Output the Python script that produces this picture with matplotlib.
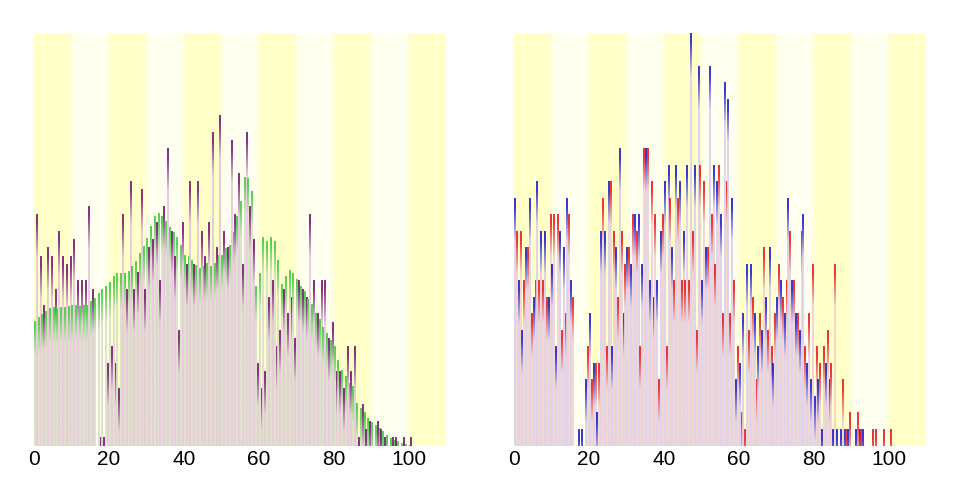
import numpy as np
import matplotlib
matplotlib.use("Agg")
import matplotlib.pyplot as plt

plt.rcParams['font.family'] = ['Liberation Sans', 'DejaVu Sans']

ages = list(range(0, 101))

# right panel: two groups, counts per age
blue_counts = [15, 10, 7, 12, 15, 9, 16, 13, 13, 9, 11, 6, 13, 12, 15, 10, 0, 1, 1, 4,
               8, 5, 2, 13, 13, 16, 6, 12, 18, 8, 12, 11, 14, 14, 11, 18, 10, 9, 10, 13,
               16, 17, 12, 17, 16, 13, 17, 25, 17, 23, 10, 12, 23, 17, 16, 14, 22, 21, 15, 4,
               5, 8, 11, 11, 8, 6, 7, 9, 12, 5, 9, 10, 8, 15, 10, 8, 7, 14, 5, 4,
               3, 4, 1, 5, 4, 1, 1, 1, 1, 1, 0, 1, 1, 1, 0, 0, 0, 0, 0, 0, 0]
red_counts = [13, 13, 10, 12, 8, 10, 10, 10, 9, 14, 14, 14, 7, 8, 14, 9, 0, 0, 0, 6,
              4, 5, 5, 15, 6, 16, 13, 9, 13, 11, 12, 14, 13, 6, 18, 18, 16, 14, 4, 14,
              6, 15, 10, 15, 10, 10, 10, 13, 7, 17, 16, 12, 14, 11, 17, 8, 16, 8, 10, 6,
              2, 1, 7, 9, 4, 8, 12, 7, 6, 8, 11, 9, 10, 13, 10, 8, 13, 6, 8, 11,
              6, 5, 6, 7, 5, 11, 0, 4, 1, 2, 0, 2, 1, 0, 0, 1, 1, 0, 1, 0, 1]

# left panel: total per age and the smoothed curve
total_counts = [28, 23, 17, 24, 23, 19, 26, 23, 22, 23, 25, 20, 20, 20, 29, 19, 0, 1, 1, 10,
                12, 10, 7, 28, 19, 32, 19, 21, 31, 19, 24, 25, 27, 20, 29, 36, 26, 23, 14, 27,
                22, 32, 22, 32, 26, 23, 27, 38, 24, 40, 26, 24, 37, 28, 33, 22, 38, 29, 25, 10,
                7, 9, 18, 20, 12, 14, 19, 16, 18, 13, 20, 19, 18, 28, 20, 16, 20, 20, 13, 15,
                9, 9, 7, 12, 9, 12, 1, 5, 2, 3, 0, 3, 2, 1, 0, 1, 1, 0, 1, 0, 1]
smooth_counts = [15.1, 15.5, 15.9, 16.3, 16.7, 16.8, 16.7, 16.8, 16.8, 16.9, 17.0, 17.0, 16.9, 17.0, 17.0,
                 17.5, 17.9, 18.5, 18.9, 19.3, 19.8, 20.5, 20.9, 20.9, 20.9, 21.1, 21.7, 22.3, 23.3, 24.1,
                 25.1, 26.6, 27.8, 28.2, 27.8, 27.2, 26.4, 25.9, 25.3, 24.3, 23.1, 23.0, 22.5, 21.9, 21.5,
                 21.7, 22.1, 21.7, 22.1, 23.1, 23.1, 23.9, 24.3, 25.9, 27.8, 29.6, 32.5, 32.4, 30.8, 19.3,
                 20.9, 25.3, 24.7, 25.3, 24.7, 22.5, 19.5, 20.5, 21.3, 20.9, 20.1, 19.3, 18.7, 17.7, 17.1,
                 16.1, 15.3, 14.4, 13.6, 12.8, 12.0, 10.4, 9.2, 8.4, 7.6, 7.2, 5.2, 4.6, 4.0, 3.3,
                 2.9, 2.5, 2.1, 1.7, 1.3, 0.9, 0.7, 0.5, 0.3, 0.2, 0.1]

xticks = [0, 20, 40, 60, 80, 100]


def rgb(h):
    h = h.lstrip('#')
    return np.array([int(h[i:i + 2], 16) for i in (0, 2, 4)]) / 255.0


def band_background(ax, ymax):
    cols = np.arange(0, 110, 0.25)
    yel = rgb('#FFFFC8')
    lig = rgb('#FFFFEF')
    c = np.array([yel if int(v // 10) % 2 == 0 else lig for v in cols])
    k = np.ones(9) / 9
    sm = np.stack([np.convolve(np.pad(c[:, i], 4, mode='edge'), k, mode='valid') for i in range(3)], axis=1)
    ax.imshow(sm[None, :, :], extent=(0, 110, 0, ymax), aspect='auto',
              interpolation='bilinear', zorder=0)


def grad_bar(ax, x, h, w, top, pale, ppu, solid=7, fade=28):
    if h <= 0:
        return
    hpx = h * ppu
    n = max(int(hpx), 2)
    d = (np.arange(n) + 0.5) / n * hpx
    t = np.clip((d - solid) / fade, 0, 1)[:, None]
    col = (1 - t) * top + t * pale
    ax.imshow(col[:, None, :], extent=(x, x + w, 0, h), origin='upper',
              aspect='auto', interpolation='bilinear', zorder=2, alpha=0.9)


fig = plt.figure(figsize=(9.6, 4.8), dpi=100)
ax1 = fig.add_axes([34 / 960, 34 / 480, 412 / 960, 413 / 480])
ax2 = fig.add_axes([514 / 960, 34 / 480, 412 / 960, 413 / 480])

w = 0.42
# left panel
ymax1 = 50
ppu1 = 413 / ymax1
band_background(ax1, ymax1)
for a, g, p in zip(ages, smooth_counts, total_counts):
    grad_bar(ax1, a, g, w, rgb('#44CC44'), rgb('#DCDFCB'), ppu1, solid=6, fade=30)
    grad_bar(ax1, a + 0.5, p, w, rgb('#7A1A7A'), rgb('#E6C8DA'), ppu1, solid=9, fade=34)

# right panel
ymax2 = 25
ppu2 = 413 / ymax2
band_background(ax2, ymax2)
for a, b, r in zip(ages, blue_counts, red_counts):
    grad_bar(ax2, a, b, w, rgb('#2222CC'), rgb('#DDD0EA'), ppu2, solid=9, fade=34)
    grad_bar(ax2, a + 0.5, r, w, rgb('#E82020'), rgb('#F0D2D4'), ppu2, solid=9, fade=34)

for ax, ymax in ((ax1, ymax1), (ax2, ymax2)):
    ax.set_xlim(0, 110)
    ax.set_ylim(0, ymax)
    ax.set_xticks(xticks)
    ax.set_xticklabels([str(t) for t in xticks], fontsize=15)
    ax.set_yticks([])
    ax.tick_params(axis='x', length=0, pad=3)
    for s in ax.spines.values():
        s.set_visible(False)

fig.savefig('out.png', dpi=100)
